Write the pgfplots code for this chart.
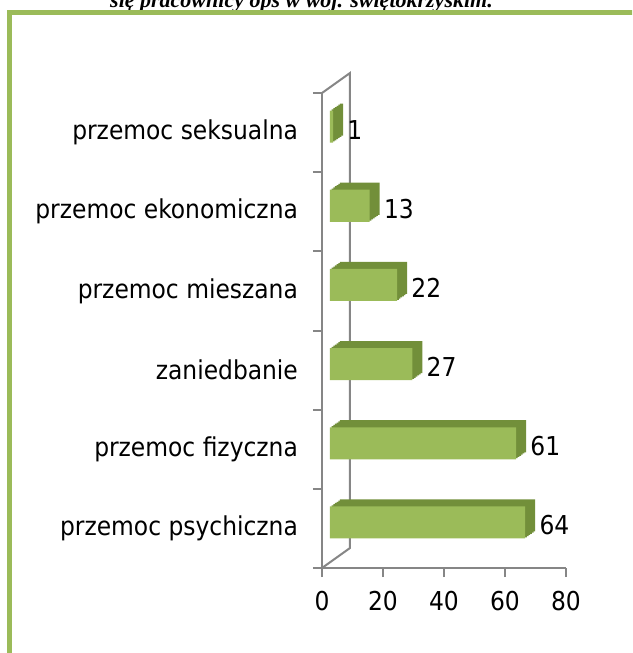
\documentclass[border=0pt]{standalone}
\usepackage{pgfplots}
\pgfplotsset{compat=1.18}
\usepackage{pgfplotstable}
\usepackage{fontspec}
\setmainfont{DejaVu Sans Condensed}
\newfontfamily\titlefont{Liberation Serif}
\definecolor{frontgreen}{HTML}{9BBB59}
\definecolor{sidegreen}{HTML}{728F3A}
\definecolor{axisgray}{HTML}{868686}

% rodzaje przemocy (od dołu)
\pgfplotstableread{
pos val
0 64
1 61
2 27
3 22
4 13
5 1
}\przemoc

\begin{document}
\begin{tikzpicture}
\clip (0,0) rectangle (316pt,326.5pt);
\node[font=\titlefont\bfseries\itshape\fontsize{11}{13}\selectfont, anchor=base, inner sep=0pt]
  at (150.75pt,322.8pt) {się pracownicy ops w woj. świętokrzyskim.};
\draw[frontgreen, line width=2.5pt] (4.75pt,-5pt) -- (4.75pt,320pt) -- (330pt,320pt);
\begin{axis}[
  at={(161pt,42.5pt)}, anchor=south west,
  scale only axis, width=122pt, height=237.5pt,
  xmin=0, xmax=80, ymin=-0.5, ymax=5.5, clip=false,
  axis x line*=bottom, axis y line*=left,
  axis line style={draw=axisgray, line width=1pt},
  xtick={0,20,...,80},
  ytick={0,...,5},
  yticklabels={przemoc psychiczna, przemoc fizyczna, zaniedbanie, przemoc mieszana, przemoc ekonomiczna, przemoc seksualna},
  minor ytick={-0.5,0.5,...,5.5},
  tick align=outside,
  major tick length=4.5pt, minor tick length=4.5pt,
  every tick/.style={draw=axisgray, line width=1pt},
  every major y tick/.append style={draw=none},
  ticklabel style={font=\fontsize{13}{15.5}\selectfont},
  yticklabel style={xshift=-4pt},
  xticklabel style={yshift=-3.5pt},
  /pgf/number format/assume math mode=true,
  mybar/.style={xbar, bar width=16pt, bar shift=0pt, draw=none},
]
\draw[axisgray, line width=1pt] (rel axis cs:0,0) -- ([shift={(14pt,10pt)}]rel axis cs:0,0)
  -- ([shift={(14pt,10pt)}]rel axis cs:0,1) -- (rel axis cs:0,1);
\pgfplotsinvokeforeach{6,5,4,3,2,1}{
  \addplot[mybar, fill=sidegreen, xshift={4pt+#1*5pt/6}, yshift={3pt+#1*3.5pt/6}]
    table[x=val, y=pos] {\przemoc};
}
\addplot[mybar, fill=frontgreen, xshift=4pt, yshift=3pt,
  nodes near coords,
  every node near coord/.append style={anchor=west, inner sep=0pt, xshift=7pt, yshift=-1.5pt,
    font=\fontsize{13}{15.5}\selectfont}]
  table[x=val, y=pos] {\przemoc};
\end{axis}
\end{tikzpicture}
\end{document}
